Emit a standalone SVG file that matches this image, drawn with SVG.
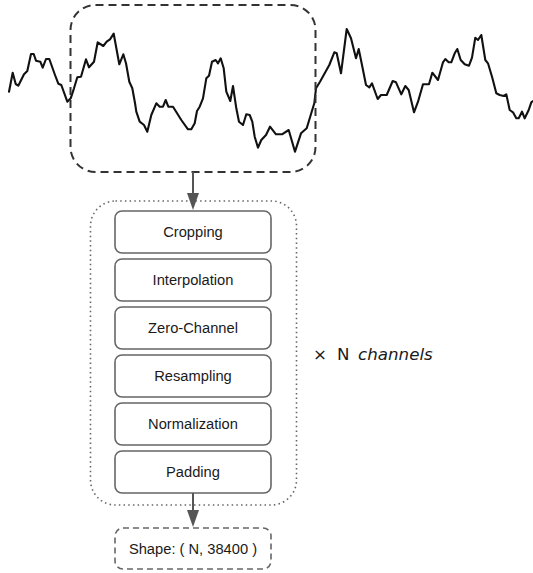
<svg xmlns="http://www.w3.org/2000/svg" width="533" height="573" viewBox="0 0 533 573">
<defs>
<style>
.wave{fill:none;stroke:#111;stroke-width:2.1;stroke-linejoin:round;stroke-linecap:round}
.crop{fill:none;stroke:#333;stroke-width:2;stroke-dasharray:8 5}
.group{fill:none;stroke:#666;stroke-width:1.6;stroke-dasharray:1.5 3.2}
.step{fill:#fff;stroke:#666;stroke-width:1.6}
.out{fill:#fff;stroke:#666;stroke-width:1.6;stroke-dasharray:6 4}
.lbl{font-family:"Liberation Sans",Arial,sans-serif;font-size:14.7px;fill:#1a1a1a;text-anchor:middle}
.note{font-family:"DejaVu Sans",Verdana,sans-serif;font-size:16.7px;fill:#1a1a1a}
.conn{stroke:#555;stroke-width:2;fill:none}
.head{fill:#555;stroke:none}
</style>
</defs>
<g id="signal">
<polyline class="wave" points="9,91.7 12.7,72.7 15.7,84 18.3,85.7 24,74.3 27.3,71 31,54 33.7,54 36,60.7 40.3,61.7 42.7,67.7 46,59 49.3,59 55,75 58.3,83.7 61.3,85 67.3,101.7 70.7,98.3 74,88.3 77.3,77.3 81,76.7 86,59.3 89,67.3 94,61.7 97.7,42.3 103.3,46 106.7,41.7 110,39.3 113.7,33.7 119.3,64.3 123.3,54.3 126,63.3 129.3,81.7 132.3,88.3 135,103 136.3,111.7 139.7,121.7 144,125 147.3,131.7 151.3,115 156.3,103.3 159.7,106.7 163,106.7 165.7,100 168.3,106.7 173,106.7 181.3,120 188,129.3 191.3,129.3 194.7,123.3 197,111 199.7,106.7 203,98.3 206.3,78.3 209,75.7 212,61.7 215.7,60 218,63.3 220.7,58.3 223.7,68.3 226.3,91.7 230.3,101 233,86 236.3,108.3 239,121.7 243,125 246.3,114.3 249.7,115 252.3,121.7 254.7,136.7 258,147.7 261.3,140 266,135 270,126.7 276,134.3 282,134.3 288.7,130 295,151.7 301,133.3 306.7,128.3 311.7,111.7 314.3,103.3 316,88.3 320,81.7 329.3,65 334.3,52.3 336.7,53.3 341,73.3 346.7,29 351,38.3 356,58.3 358.7,49 362,65 366,85 369.3,87.3 372,83.3 377.7,99 381,95 386.7,95 392.7,81 396,82.3 401.3,94.3 405.3,86 408.7,90 414,112.3 418,101.7 423,84.3 429,84.3 432.3,72.7 438,80 443,62.3 445.3,59 448.7,62.3 451.3,62.3 454.7,53.3 457.3,49 460.7,60 464.7,64.3 469,65.7 472,57.7 475.3,37.7 478,40 481.3,35 485.3,60 488,63.3 492.3,77.7 496.3,93.3 499.7,95 503.7,96 506.3,94.3 509.7,110 513,112.3 516.3,118.3 518.7,118.3 522,111.7 524.7,118.3 528.7,110 531.3,102.3 533,101"/>
</g>
<g id="crop-window">
<rect class="crop" x="70.5" y="5" width="245" height="167" rx="25"/>
</g>
<g id="pipeline">
<rect class="group" x="90.5" y="201" width="206" height="304" rx="25"/>
</g>
<g id="cropping"><rect class="step" x="115" y="211" width="156" height="42" rx="7"/><text class="lbl" x="193" y="237">Cropping</text></g>
<g id="interpolation"><rect class="step" x="115" y="259" width="156" height="42" rx="7"/><text class="lbl" x="193" y="285">Interpolation</text></g>
<g id="zero-channel"><rect class="step" x="115" y="307" width="156" height="42" rx="7"/><text class="lbl" x="193" y="333">Zero-Channel</text></g>
<g id="resampling"><rect class="step" x="115" y="355" width="156" height="42" rx="7"/><text class="lbl" x="193" y="381">Resampling</text></g>
<g id="normalization"><rect class="step" x="115" y="403" width="156" height="42" rx="7"/><text class="lbl" x="193" y="429">Normalization</text></g>
<g id="padding"><rect class="step" x="115" y="451" width="156" height="42" rx="7"/><text class="lbl" x="193" y="477">Padding</text></g>
<g id="shape"><rect class="out" x="115" y="528" width="156" height="41" rx="8"/><text class="lbl" x="193" y="554">Shape: ( N, 38400 )</text></g>
<g id="channels-label"><text class="note" y="360"><tspan x="313">×</tspan><tspan x="337">N</tspan><tspan x="358" font-style="italic">channels</tspan></text></g>
<g id="connectors">
<line class="conn" x1="193" y1="172" x2="193" y2="195"/>
<polygon class="head" points="187,193 199,193 193,210"/>
<line class="conn" x1="193" y1="493" x2="193" y2="512"/>
<polygon class="head" points="187,510 199,510 193,527"/>
</g>
</svg>
